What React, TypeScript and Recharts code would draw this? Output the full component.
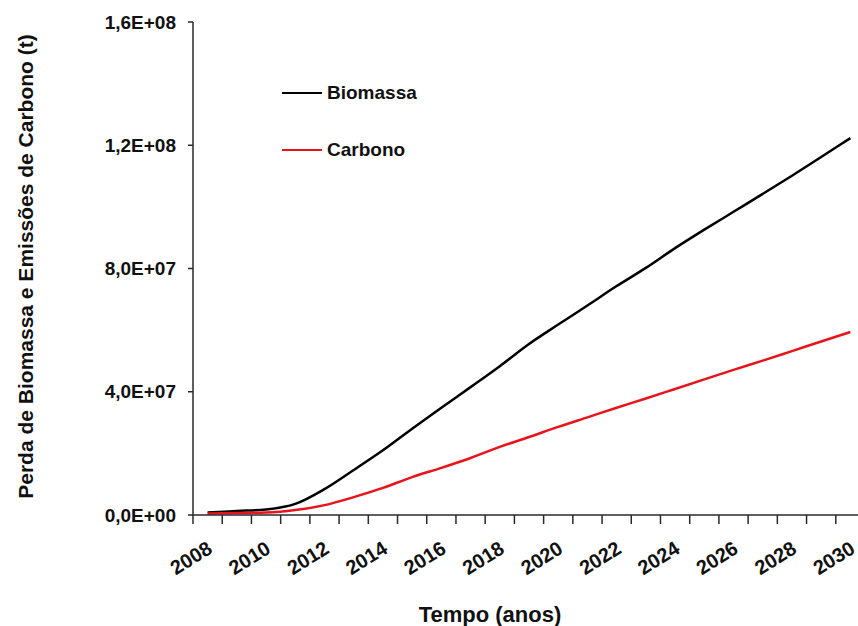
import React from 'react'
import { LineChart, Line, XAxis, YAxis, Legend } from 'recharts'

// values in tonnes
const years = [
  2008, 2009, 2010, 2011, 2012, 2013, 2014, 2015, 2016, 2017, 2018, 2019,
  2020, 2021, 2022, 2023, 2024, 2025, 2026, 2027, 2028, 2029, 2030,
]
const biomassa = [
  0.8e6, 1.3e6, 1.8e6, 3.6e6, 8.4e6, 14.6e6, 21.0e6, 28.0e6, 34.8e6, 41.5e6, 48.3e6, 55.5e6,
  61.8e6, 68.0e6, 74.3e6, 80.2e6, 86.6e6, 92.6e6, 98.4e6, 104.2e6, 110.1e6, 116.2e6, 122.3e6,
]
const carbono = [
  0.5e6, 0.65e6, 0.8e6, 1.6e6, 3.2e6, 5.8e6, 8.8e6, 12.3e6, 15.3e6, 18.5e6, 22.1e6, 25.3e6,
  28.6e6, 31.7e6, 34.8e6, 37.8e6, 40.9e6, 44.0e6, 47.1e6, 50.1e6, 53.2e6, 56.3e6, 59.4e6,
]
const yTicks = [0, 4e7, 8e7, 1.2e8, 1.6e8]
const yearLabels = [2008, 2010, 2012, 2014, 2016, 2018, 2020, 2022, 2024, 2026, 2028, 2030]

const FONT = '"Liberation Sans", Arial, sans-serif'
const AXIS = '#2a2a2a'
const RED = '#e8141c'

const data = years.map((year, i) => ({ year, Biomassa: biomassa[i], Carbono: carbono[i] }))

// tick marks sit between the years (Excel style), labels on even years
const boundaries = [years[0] - 0.5, ...years.map((y) => y + 0.5)]
const xTicks = [...boundaries, ...yearLabels].sort((a, b) => a - b)

// 1.6e8 -> "1,6E+08"
function sciLabel(v: number) {
  const [m, e] = v.toExponential(1).split('e')
  const exp = parseInt(e, 10)
  const sign = exp < 0 ? '-' : '+'
  return `${m.replace('.', ',')}E${sign}${String(Math.abs(exp)).padStart(2, '0')}`
}

function XTick({ x, y, payload }: any) {
  const v = payload.value as number
  if (v % 1 !== 0) {
    return <line x1={x} y1={y} x2={x} y2={y + 9} stroke={AXIS} strokeWidth={1.5} />
  }
  const tx = x + 6
  const ty = y + 37
  return (
    <text
      x={tx}
      y={ty}
      transform={`rotate(-32, ${tx}, ${ty})`}
      textAnchor="end"
      fontFamily={FONT}
      fontWeight="bold"
      fontSize={20}
      fill="#111"
    >
      {v}
    </text>
  )
}

function YTitle({ viewBox }: any) {
  const cx = 17
  const cy = viewBox.y + viewBox.height / 2 - 2
  return (
    <text
      x={cx}
      y={cy}
      transform={`rotate(-90, ${cx}, ${cy})`}
      textAnchor="middle"
      dominantBaseline="central"
      fontFamily={FONT}
      fontWeight="bold"
      fontSize={21}
      fill="#111"
    >
      Perda de Biomassa e Emissões de Carbono (t)
    </text>
  )
}

function XTitle({ viewBox }: any) {
  return (
    <text
      x={482}
      y={viewBox.y + 99}
      textAnchor="middle"
      dominantBaseline="central"
      fontFamily={FONT}
      fontWeight="bold"
      fontSize={22}
      fill="#111"
    >
      Tempo (anos)
    </text>
  )
}

function LegendBox({ payload }: any) {
  return (
    <div style={{ fontFamily: FONT, fontWeight: 'bold', fontSize: 19, color: '#111' }}>
      {(payload || []).map((item: any, i: number) => (
        <div key={item.value} style={{ display: 'flex', alignItems: 'center', height: 24, marginTop: i ? 33 : 0 }}>
          <span style={{ display: 'inline-block', width: 40, height: 2.5, background: item.color, marginRight: 5 }} />
          <span>{item.value}</span>
        </div>
      ))}
    </div>
  )
}

export default function App() {
  // the plot runs a few pixels past the right edge of the page, as in the original
  return (
    <div style={{ position: 'absolute', left: 0, top: 0, width: 858, height: 626, overflow: 'hidden' }}>
      <div style={{ position: 'absolute', left: 8, top: 8 }}>
        <LineChart width={857} height={618} data={data} margin={{ top: 14, right: 0, bottom: 0, left: 0 }}>
          <XAxis
            dataKey="year"
            type="number"
            domain={[years[0] - 0.5, years[years.length - 1] + 0.5]}
            ticks={xTicks}
            interval={0}
            tick={<XTick />}
            tickLine={false}
            tickSize={0}
            tickMargin={0}
            height={111}
            axisLine={{ stroke: AXIS, strokeWidth: 1.5 }}
            label={(props: any) => <XTitle {...props} />}
          />
          <YAxis
            width={185}
            domain={[0, 1.6e8]}
            ticks={yTicks}
            interval={0}
            tickFormatter={sciLabel}
            tickSize={5}
            tickMargin={12}
            axisLine={{ stroke: AXIS, strokeWidth: 1.5 }}
            tickLine={{ stroke: AXIS, strokeWidth: 1.5 }}
            tick={{ fontFamily: FONT, fontWeight: 'bold', fontSize: 19, fill: '#111' }}
            label={(props: any) => <YTitle {...props} />}
          />
          <Legend
            layout="vertical"
            align="center"
            verticalAlign="middle"
            content={<LegendBox />}
            wrapperStyle={{ top: 73, left: 274, width: 'auto', height: 'auto' }}
          />
          <Line
            dataKey="Biomassa"
            type="monotone"
            stroke="#000"
            strokeWidth={2.5}
            dot={false}
            isAnimationActive={false}
          />
          <Line
            dataKey="Carbono"
            type="monotone"
            stroke={RED}
            strokeWidth={2.5}
            dot={false}
            isAnimationActive={false}
          />
        </LineChart>
      </div>
    </div>
  )
}
